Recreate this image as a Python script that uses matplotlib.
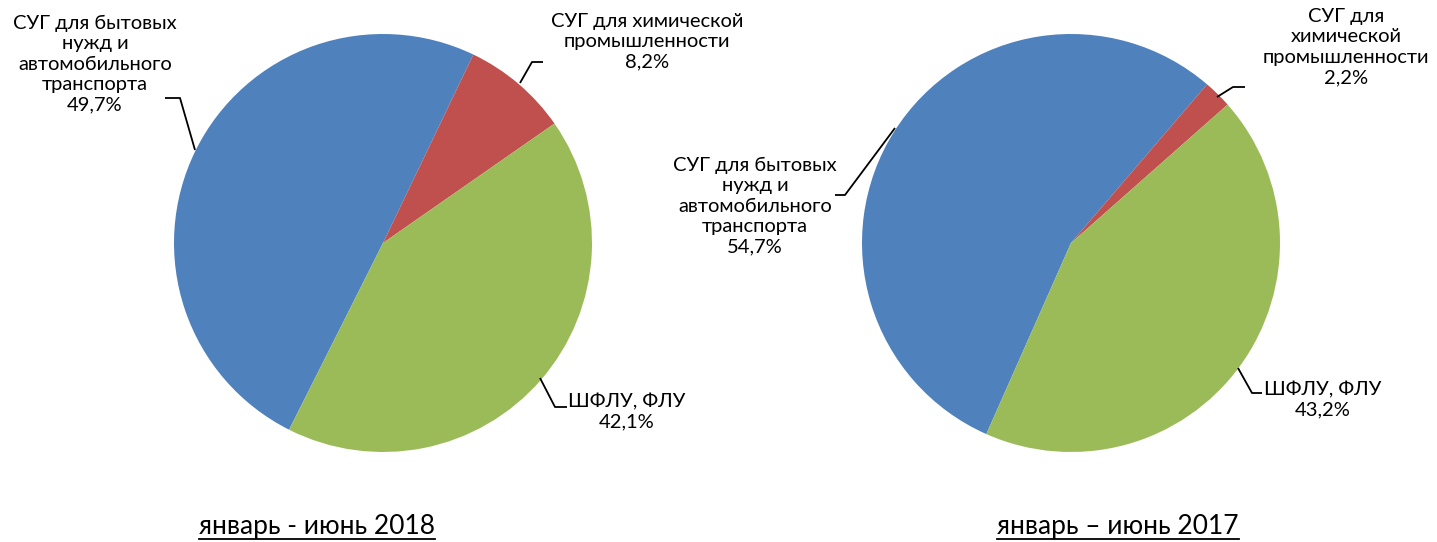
import matplotlib
matplotlib.use("Agg")
import matplotlib.pyplot as plt

W, H = 1437, 542

# data
labels_2018 = ["СУГ для бытовых\nнужд и\nавтомобильного\nтранспорта",
               "СУГ для химической\nпромышленности",
               "ШФЛУ, ФЛУ"]
share_2018 = [49.7, 8.2, 42.1]
labels_2017 = ["СУГ для бытовых\nнужд и\nавтомобильного\nтранспорта",
               "СУГ для\nхимической\nпромышленности",
               "ШФЛУ, ФЛУ"]
share_2017 = [54.7, 2.2, 43.2]
titles = ["январь - июнь 2018", "январь – июнь 2017"]

colors = ["#4F81BD", "#C0504D", "#9BBB59"]
font = "Lato"


def Y(y):
    # pixel row from top -> data y
    return H - y


fig = plt.figure(figsize=(W / 100, H / 100), dpi=100)
ax = fig.add_axes([0, 0, 1, 1])

ax.pie(share_2018, colors=colors, startangle=-116.7, counterclock=False,
       center=(383, Y(243)), radius=209,
       wedgeprops=dict(linewidth=0))
ax.pie(share_2017, colors=colors, startangle=-113.9, counterclock=False,
       center=(1071, Y(243)), radius=209,
       wedgeprops=dict(linewidth=0))


def pct(v):
    return ("%.1f%%" % v).replace(".", ",")


def label(x, y, txt, v, ha="center"):
    ax.text(x, Y(y), txt + "\n" + pct(v), ha=ha, va="center",
            multialignment="center", fontsize=14.5, family=font,
            linespacing=1.24, color="black")


def leader(pts):
    xs = [p[0] for p in pts]
    ys = [Y(p[1]) for p in pts]
    ax.plot(xs, ys, color="black", lw=1.3, solid_capstyle="butt")


# 2018 labels
label(95, 64, labels_2018[0], share_2018[0])
leader([(195, 150), (180, 98), (165, 98)])
label(647, 42, labels_2018[1], share_2018[1])
leader([(520, 83), (532, 62), (543, 62)])
label(627, 412, labels_2018[2], share_2018[2])
leader([(540, 378), (555, 407), (567, 407)])

# 2017 labels
label(755, 206, labels_2017[0], share_2017[0])
leader([(895, 128), (845, 195), (835, 195)])
label(1346, 47, labels_2017[1], share_2017[1])
leader([(1217, 97), (1233, 87), (1245, 87)])
label(1323, 400, labels_2017[2], share_2017[2])
leader([(1238, 368), (1252, 393), (1262, 393)])

# titles, underlined
tts = []
for cx, t in zip([317, 1118], titles):
    tts.append(ax.text(cx, Y(534), t, ha="center", va="baseline",
                       fontsize=19, family=font, color="black"))

ax.set_xlim(0, W)
ax.set_ylim(0, H)
ax.set_aspect("equal")
ax.axis("off")

fig.canvas.draw()
r = fig.canvas.get_renderer()
for t in tts:
    bb = t.get_window_extent(r)
    ax.plot([bb.x0, bb.x1], [Y(539), Y(539)], color="black", lw=1.3)

fig.savefig("out.png", dpi=100)
